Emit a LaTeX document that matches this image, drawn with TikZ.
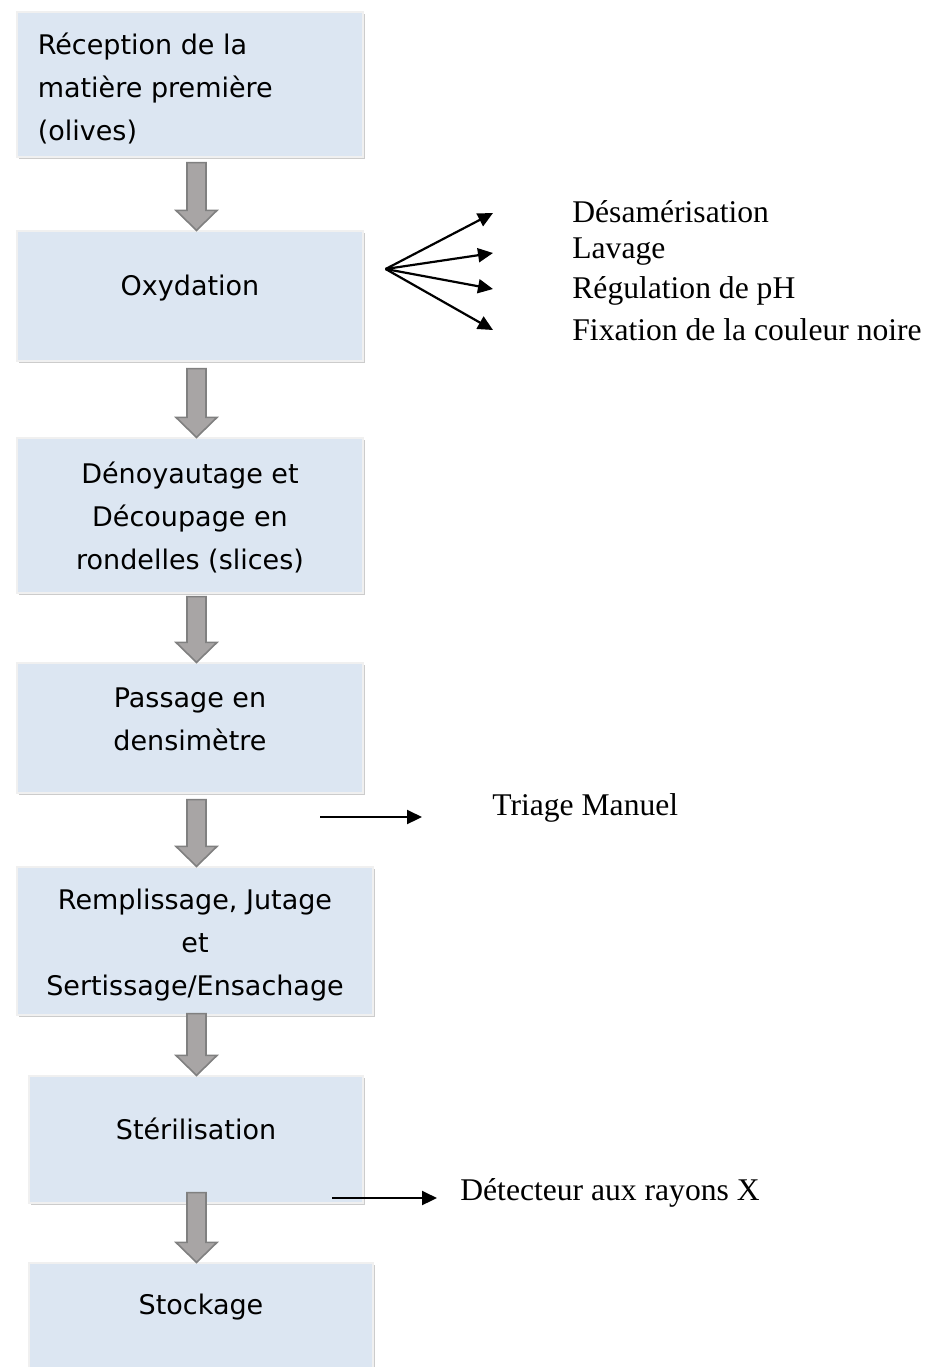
\documentclass[tikz,border=0pt]{standalone}
\usepackage{fontspec}
\setmainfont{Liberation Serif}
\newfontfamily\comicfont{DejaVu Sans}
\usetikzlibrary{calc,shadows,arrows.meta}

\definecolor{bleuboite}{RGB}{220,230,242}
\definecolor{grisfleche}{RGB}{168,165,165}
\definecolor{grisbord}{RGB}{128,128,128}

% grosse fleche grise d'une etape a la suivante (#3 = decalage du depart)
\newcommand{\flechebloc}[3]{%
  \draw[fleche] ($(#1.south -| axe)+(-9.5,#3)$) -- ($(#1.south -| axe)+(9.5,#3)$)
    -- ($(#2.north -| axe)+(9.5,-20)$) -- ($(#2.north -| axe)+(20.5,-20)$)
    -- (#2.north -| axe) -- ($(#2.north -| axe)+(-20.5,-20)$)
    -- ($(#2.north -| axe)+(-9.5,-20)$) -- cycle;}

\begin{document}
\begin{tikzpicture}[x=0.5pt, y=-0.5pt]
    % Define the styles
    \tikzstyle{boite} = [rectangle, fill=bleuboite, draw=gray!12, line width=0.6pt, inner sep=0pt,
        drop shadow={shadow xshift=1.2pt, shadow yshift=-1.2pt, opacity=0.4}]
    \tikzstyle{texte} = [font=\comicfont\fontsize{13.5pt}{21.5pt}\selectfont, align=center, inner sep=0pt]
    \tikzstyle{etiq} = [font=\fontsize{15.8pt}{18pt}\selectfont, inner sep=0pt, anchor=west]
    \tikzstyle{fleche} = [fill=grisfleche, draw=grisbord, line width=0.8pt, line join=miter]
    \tikzstyle{fin} = [line width=1.1pt, -{Triangle[length=7.5pt, width=7pt]}]

    \useasboundingbox (0,0) rectangle (942,1367);
    \coordinate (axe) at (196.5,0);

    % Create the boxes of the steps
    \node [boite, minimum width=173pt, minimum height=72.5pt] (b1) at (190,84.5) {};
    \node [boite, minimum width=173pt, minimum height=65pt] (b2) at (190,296) {};
    \node [boite, minimum width=173pt, minimum height=77.5pt] (b3) at (190,515.5) {};
    \node [boite, minimum width=173pt, minimum height=65pt] (b4) at (190,728) {};
    \node [boite, minimum width=178pt, minimum height=74pt] (b5) at (195,941) {};
    \node [boite, minimum width=167pt, minimum height=63.5pt] (b6) at (196,1139.5) {};
    \node [boite, minimum width=172pt, minimum height=78.5pt] (b7) at (201,1341.5) {};

    % Text of the steps
    \node [texte, align=left, anchor=west] (t1) at ($(b1.north west)+(21,77.5)$) {R\'eception de la\\mati\`ere premi\`ere\\(olives)};
    \node [texte] (t2) at ($(b2.north)+(0,58)$) {Oxydation};
    \node [texte] (t3) at ($(b3.north)+(0,80)$) {D\'enoyautage et\\D\'ecoupage en\\rondelles (slices)};
    \node [texte] (t4) at ($(b4.north)+(0,57)$) {Passage en\\densim\`etre};
    \node [texte] (t5) at ($(b5.north)+(0,79)$) {Remplissage, Jutage\\et\\Sertissage/Ensachage};
    \node [texte] (t6) at ($(b6.north)+(0,53)$) {St\'erilisation};
    \node [texte] (t7) at ($(b7.north)+(0,45)$) {Stockage};

    % Draw the grey arrows between the steps
    \flechebloc{b1}{b2}{5}
    \flechebloc{b2}{b3}{7}
    \flechebloc{b3}{b4}{3}
    \flechebloc{b4}{b5}{6}
    \flechebloc{b5}{b6}{-2}
    \flechebloc{b6}{b7}{-11}

    % Operations of the oxydation
    \coordinate (ox) at ($(b2.east)+(22,-27)$);
    \node [etiq] (d1) at (572,212) {D\'esam\'erisation};
    \node [etiq] (d2) at (572,252) {Lavage};
    \node [etiq] (d3) at (572,291) {R\'egulation de pH};
    \node [etiq] (d4) at (572,330) {Fixation de la couleur noire};
    \draw [fin] (ox) -- ($(d1.west)+(-79,1)$);
    \draw [fin] (ox) -- ($(d2.west)+(-79,1)$);
    \draw [fin] (ox) -- ($(d3.west)+(-79,-2)$);
    \draw [fin] (ox) -- ($(d4.west)+(-79,0)$);

    % Side controls
    \node [etiq] (tri) at (492,808) {Triage Manuel};
    \coordinate (tr0) at (320,817);
    \coordinate (tr1) at (422,817);
    \draw [fin] (tr0) -- (tr1);

    \node [etiq] (det) at (460,1193) {D\'etecteur aux rayons X};
    \coordinate (dx0) at (332,1198);
    \coordinate (dx1) at (437,1198);
    \draw [fin] (dx0) -- (dx1);
\end{tikzpicture}
\end{document}
